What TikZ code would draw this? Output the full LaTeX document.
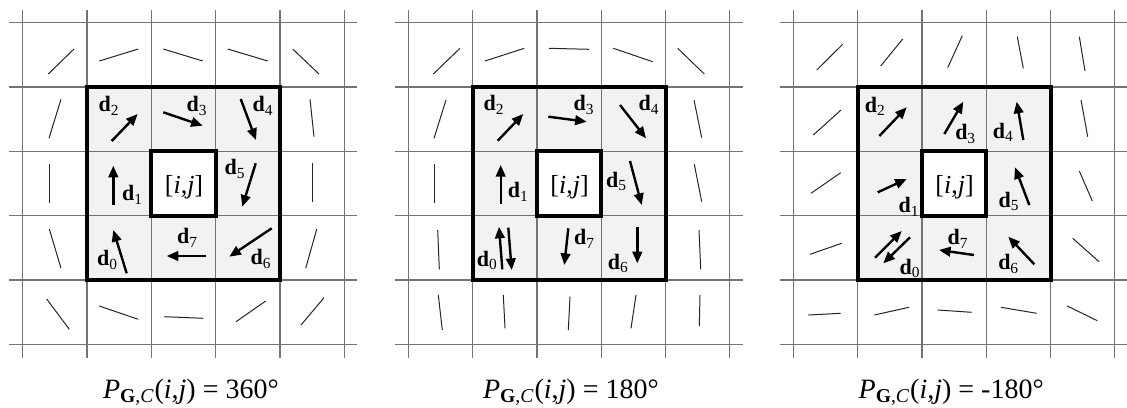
\documentclass[tikz,border=0pt]{standalone}
\usepackage{fontspec}
\setmainfont{Liberation Serif}
\usetikzlibrary{arrows.meta}
\tikzset{
  gridline/.style={draw=black!55, line width=0.65pt},
  seg/.style={draw=black!85, line width=0.5pt},
  vec/.style={draw=black, line width=1.2pt, -{Triangle[length=5.8pt,width=4.8pt]}},
  thickbox/.style={draw=black, line width=2pt},
  dlab/.style={font=\fontsize{11}{13}\selectfont, inner sep=0pt},
  caplab/.style={font=\fontsize{14}{16}\selectfont, inner sep=0pt, anchor=base west},
  ijlab/.style={font=\fontsize{13}{15}\selectfont, inner sep=0pt},
}
\newcommand\dl[1]{\textbf{d}\textsubscript{#1}}
\newcommand\mygridpanel{%
  \fill[black!5] (87,87) rectangle (279.9,279.9);
  \fill[white] (151.3,151.3) rectangle (215.6,215.6);
  \foreach \k in {0,...,5} {
    \pgfmathsetmacro\g{22.7+64.3*\k}
    \draw[gridline] (9.4,\g) -- (357,\g);
    \draw[gridline] (\g,10) -- (\g,358);
  }
  \draw[thickbox] (87,87) rectangle (279.9,279.9);
  \draw[thickbox] (151.3,151.3) rectangle (215.6,215.6);
}
\begin{document}
\begin{tikzpicture}[x=0.5pt,y=-0.5pt]
\useasboundingbox (0,0) rectangle (1127,407);
% ---------------- panel 1 ----------------
\begin{scope}
  \mygridpanel
  \draw[seg] (48.3,74) -- (74,49);
  \draw[seg] (99.3,61) -- (138.3,49);
  \draw[seg] (163.3,49) -- (202.7,61);
  \draw[seg] (227.7,49) -- (267.7,61);
  \draw[seg] (292.7,49) -- (319,74);
  \draw[seg] (61,99.3) -- (49,138.3);
  \draw[seg] (310,99.3) -- (314,136.7);
  \draw[seg] (49.3,164) -- (49.3,203.3);
  \draw[seg] (312.3,163.3) -- (312.3,201.7);
  \draw[seg] (49.3,229) -- (61,268.3);
  \draw[seg] (316.7,229.3) -- (305.7,268.3);
  \draw[seg] (46.7,299) -- (69.3,329.3);
  \draw[seg] (99.3,306) -- (138.3,319.3);
  \draw[seg] (164.3,316.7) -- (203.3,318.3);
  \draw[seg] (236,321.7) -- (265.7,301);
  \draw[seg] (301,325) -- (324,297.7);
  \draw[vec] (111.7,141) -- (137.7,114);
  \draw[vec] (163.3,112.3) -- (202.7,125.7);
  \draw[vec] (240.7,99) -- (256,140);
  \draw[vec] (113.3,205) -- (113.3,165.7);
  \draw[vec] (255.7,163.3) -- (242.3,206.7);
  \draw[vec] (126.7,273.3) -- (113.3,230);
  \draw[vec] (206,256) -- (166.7,256);
  \draw[vec] (271.7,228.3) -- (229.3,256.7);
  \node[dlab] (a2) at (109,106) {\dl{2}};
  \node[dlab] (a3) at (197,106) {\dl{3}};
  \node[dlab] (a4) at (263,106) {\dl{4}};
  \node[dlab] (a1) at (132.5,195) {\dl{1}};
  \node[dlab] (a5) at (235,169) {\dl{5}};
  \node[dlab] (a0) at (107.5,260) {\dl{0}};
  \node[dlab] (a7) at (187.5,238) {\dl{7}};
  \node[dlab] (a6) at (261,259) {\dl{6}};
  \node[ijlab] (aij) at (184,187) {[\textit{i},\textit{j}]};
\end{scope}
% ---------------- panel 2 ----------------
\begin{scope}[shift={(385.6,0)}]
  \mygridpanel
  \draw[seg] (47.7,74) -- (74.4,48.3);
  \draw[seg] (99.4,61) -- (138.7,48.3);
  \draw[seg] (163.4,48.3) -- (203.4,49.3);
  \draw[seg] (227.7,48.3) -- (267.1,61.7);
  \draw[seg] (292.1,48.3) -- (318.7,74);
  \draw[seg] (60.4,100) -- (48.4,138.3);
  \draw[seg] (308.4,100) -- (316.1,137.7);
  \draw[seg] (48.4,164) -- (48.4,202.7);
  \draw[seg] (308.7,164.3) -- (316.1,201.7);
  \draw[seg] (52.1,230) -- (53.7,269.3);
  \draw[seg] (313.4,230) -- (315.1,269.3);
  \draw[seg] (52.7,295) -- (56.7,330);
  \draw[seg] (117.7,295) -- (119.4,328.3);
  \draw[seg] (184.4,296.7) -- (182.7,330);
  \draw[seg] (250.4,295) -- (245.4,328.3);
  \draw[seg] (314.4,295) -- (313.7,326);
  \draw[vec] (112.1,140.7) -- (137.7,114);
  \draw[vec] (162.7,116.7) -- (201.1,121.7);
  \draw[vec] (234.4,105) -- (260.4,138.3);
  \draw[vec] (115.1,204.3) -- (115.1,165);
  \draw[vec] (244.4,161) -- (256.1,205);
  \draw[vec] (116.7,269.3) -- (113.4,226.7);
  \draw[vec] (122.7,227.7) -- (126.1,270);
  \draw[vec] (182.7,228.3) -- (178.7,265);
  \draw[vec] (251.7,226.7) -- (251.7,263.3);
  \node[dlab] (b2) at (108.4,105) {\dl{2}};
  \node[dlab] (b3) at (198.4,105) {\dl{3}};
  \node[dlab] (b4) at (263.4,105) {\dl{4}};
  \node[dlab] (b1) at (132.7,192) {\dl{1}};
  \node[dlab] (b5) at (231.1,181.7) {\dl{5}};
  \node[dlab] (b0) at (101.7,260.7) {\dl{0}};
  \node[dlab] (b7) at (199,239) {\dl{7}};
  \node[dlab] (b6) at (232.7,263.7) {\dl{6}};
  \node[ijlab] (bij) at (184,187) {[\textit{i},\textit{j}]};
\end{scope}
% ---------------- panel 3 ----------------
\begin{scope}[shift={(770.6,0)}]
  \mygridpanel
  \draw[seg] (46.1,70) -- (72.1,44.3);
  \draw[seg] (110.1,66) -- (132.1,39);
  \draw[seg] (177.1,67.7) -- (191.7,35.7);
  \draw[seg] (246.7,36.7) -- (252.7,68.3);
  \draw[seg] (308.7,36.7) -- (314.4,71);
  \draw[seg] (42.7,135) -- (70.4,110);
  \draw[seg] (310.4,100) -- (317.1,136.7);
  \draw[seg] (40.4,193.3) -- (70.1,172.7);
  \draw[seg] (308.7,171) -- (321.7,201);
  \draw[seg] (39.4,254.3) -- (71.1,243.3);
  \draw[seg] (302.1,238.3) -- (328.4,261.7);
  \draw[seg] (37.7,315) -- (70.1,313.3);
  \draw[seg] (103.7,315) -- (138.4,307.3);
  \draw[seg] (167.1,310) -- (201.1,312.3);
  \draw[seg] (230.4,307.3) -- (266.1,313.3);
  \draw[seg] (296.7,306) -- (326.7,320.7);
  \draw[vec] (108.7,136) -- (136.1,107.3);
  \draw[vec] (173.7,134) -- (192.7,101.7);
  \draw[vec] (252.7,140) -- (246.1,101.7);
  \draw[vec] (107.1,192.3) -- (136.1,179);
  \draw[vec] (258.7,205) -- (244.4,167.3);
  \draw[vec] (104.4,257.7) -- (131.1,231);
  \draw[vec] (139.4,237.3) -- (112.7,263.3);
  \draw[vec] (203.4,255) -- (168.4,250);
  \draw[vec] (263.7,264.3) -- (237.7,236.7);
  \node[dlab] (c2) at (104.7,106.7) {\dl{2}};
  \node[dlab] (c3) at (195.1,134) {\dl{3}};
  \node[dlab] (c4) at (232.7,132.3) {\dl{4}};
  \node[dlab] (c1) at (138.4,207) {\dl{1}};
  \node[dlab] (c5) at (238.4,201.3) {\dl{5}};
  \node[dlab] (c0) at (139.4,268.3) {\dl{0}};
  \node[dlab] (c7) at (187.4,239) {\dl{7}};
  \node[dlab] (c6) at (238.1,264) {\dl{6}};
  \node[ijlab] (cij) at (184,187) {[\textit{i},\textit{j}]};
\end{scope}
% ---------------- captions ----------------
\node[caplab] (cap1) at (102.7,398) {\textit{P}\textsubscript{\textbf{G},\textit{C}}(\textit{i},\textit{j}) = 360°};
\node[caplab] (cap2) at (482.7,398) {\textit{P}\textsubscript{\textbf{G},\textit{C}}(\textit{i},\textit{j}) = 180°};
\node[caplab] (cap3) at (858.3,398) {\textit{P}\textsubscript{\textbf{G},\textit{C}}(\textit{i},\textit{j}) = -180°};
\end{tikzpicture}
\end{document}
